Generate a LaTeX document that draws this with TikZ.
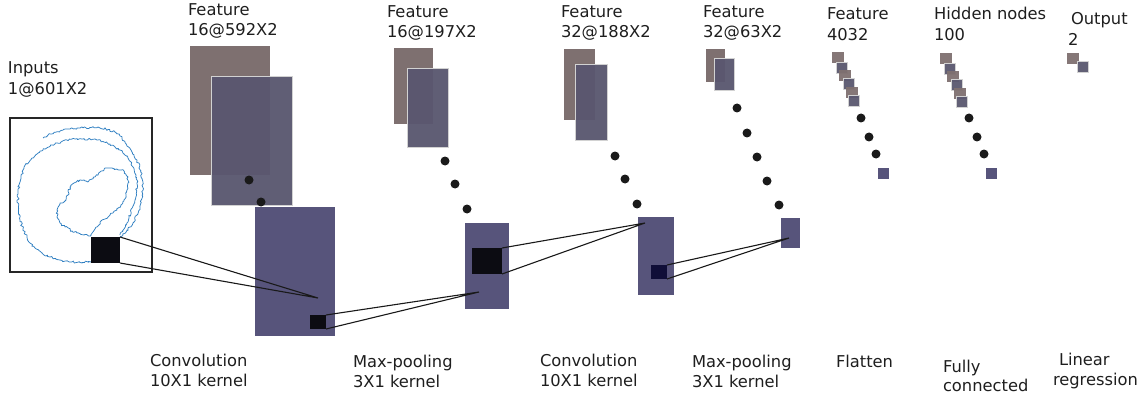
\documentclass[tikz,border=0pt]{standalone}
\usepackage{fontspec}
\setmainfont{DejaVu Sans}
\usetikzlibrary{decorations.pathmorphing}
\definecolor{fbrown}{HTML}{7E7070}
\definecolor{fslate}{HTML}{5A576F}
\definecolor{fblue}{HTML}{57547B}
\definecolor{kblack}{HTML}{0C0C12}
\definecolor{knavy}{HTML}{100E38}
\definecolor{curveblue}{HTML}{2F7FC1}
\definecolor{txt}{HTML}{1E1E1E}
\definecolor{dotc}{HTML}{1A1A1A}
\begin{document}
\begin{tikzpicture}[x=1pt,y=-1pt,
  lbl/.style={anchor=base west, inner sep=0pt, outer sep=0pt, font=\fontsize{16.3}{20}\selectfont, text=txt},
  map/.style={anchor=north west, inner sep=0pt, outer sep=0pt, draw=none},
  back/.style={map, fill=fbrown},
  front/.style={map, fill=fslate, fill opacity=0.96, draw=white!65!gray, line width=0.5pt},
  last/.style={map, fill=fblue},
  kern/.style={map, fill=kblack},
  kernn/.style={map, fill=knavy},
  sqb/.style={map, fill=fbrown, fill opacity=0.95, minimum width=11.5pt, minimum height=11.5pt},
  sqs/.style={map, fill=fslate, fill opacity=0.95, draw=white!65!gray, line width=0.5pt, minimum width=11.5pt, minimum height=11.5pt},
  sql/.style={map, fill=fblue, minimum width=11pt, minimum height=11pt},
  dot/.style={circle, fill=dotc, inner sep=0pt, minimum size=9pt},
  conn/.style={draw=black!90, line width=1.1pt},
  spiral/.style={draw=curveblue, line width=0.75pt, line join=round, decorate, decoration={random steps, segment length=1.6pt, amplitude=1.1pt}}
]
\useasboundingbox (0,0) rectangle (1148,401);
\pgfmathsetseed{7}

% ---------- Input ----------
\node[lbl] (tin1) at (8,74) {Inputs};
\node[lbl] (tin2) at (8,95) {1@601X2};
\node[map, draw=black!85, line width=2pt, minimum width=142pt, minimum height=154pt] (inbox) at (10,118) {};
\draw[spiral] (43,138) -- (51,134) -- (60,131) -- (70,129) -- (80,128) -- (90,127.5) -- (100,128) -- (108,129.5) -- (115,132) -- (120,136) -- (125,142) -- (131,150) -- (137,160) -- (141,171) -- (143,183) -- (142,195) -- (140,207) -- (137,215) -- (133,223) -- (127,230) -- (120,237);
\draw[spiral] (91,262) -- (80,262.5) -- (70,262) -- (60,260) -- (50,257) -- (42,253) -- (35,248) -- (30,243) -- (27,237) -- (23,229) -- (20,220) -- (18.5,211) -- (18,203) -- (18,194) -- (19,185) -- (21,177) -- (23,170) -- (27,164) -- (32,158) -- (37,154) -- (43,150) -- (49,147) -- (55,144) -- (61,142) -- (67,140) -- (75,139) -- (82,139) -- (90,139) -- (97,140) -- (104,142) -- (110,144) -- (115,147) -- (120,150) -- (124,154) -- (128,158) -- (131,162) -- (133,167) -- (136,175) -- (137,183) -- (136.5,192) -- (135,200) -- (133,206) -- (131,212) -- (129,218) -- (127,223) -- (124,229) -- (120,235);
\draw[spiral] (91,236) -- (95,229) -- (100,223) -- (105,219) -- (110,215) -- (117,210) -- (121,205) -- (124,200) -- (126,195) -- (127,190) -- (128,183) -- (128,177) -- (124,171) -- (117,169) -- (112,168) -- (107,168) -- (100,172) -- (95,177) -- (88,182) -- (84,180) -- (80,180) -- (74,183) -- (70,187) -- (68,195) -- (66,200) -- (60,204) -- (57,210) -- (57,217) -- (60,223) -- (65,227) -- (72,231) -- (77,233) -- (84,235) -- (91,236);
\node[kern, minimum width=29pt, minimum height=26pt] (insq) at (91,237) {};

% ---------- Conv 1 ----------
\node[lbl] (tc1a) at (188,16) {Feature};
\node[lbl] (tc1b) at (188,36) {16@592X2};
\node[back, minimum width=80pt, minimum height=129pt] (c1b) at (190,46) {};
\node[front, minimum width=81pt, minimum height=129pt] (c1f) at (211,76) {};
\node[dot] (c1d1) at (249,180) {};
\node[dot] (c1d2) at (261,202) {};
\node[last, minimum width=80pt, minimum height=129pt] (c1l) at (255,207) {};
\node[kern, minimum width=16pt, minimum height=14pt] (c1sq) at (310,315) {};
\coordinate (p1) at (318,298);
\draw[conn] (insq.north east) -- (p1) -- (insq.south east);

% ---------- Pool 1 ----------
\node[lbl] (tp1a) at (387,18) {Feature};
\node[lbl] (tp1b) at (387,38) {16@197X2};
\node[back, minimum width=39pt, minimum height=76pt] (p1b) at (394,48) {};
\node[front, minimum width=41pt, minimum height=79pt] (p1f) at (407,68) {};
\node[dot] (p1d1) at (445,161) {};
\node[dot] (p1d2) at (455,184) {};
\node[dot] (p1d3) at (467,209) {};
\node[last, minimum width=44pt, minimum height=86pt] (p1l) at (465,223) {};
\node[kern, minimum width=30pt, minimum height=26pt] (p1sq) at (472,248) {};
\coordinate (p2) at (479,292);
\draw[conn] (c1sq.north east) -- (p2) -- (c1sq.south east);

% ---------- Conv 2 ----------
\node[lbl] (tc2a) at (561,18) {Feature};
\node[lbl] (tc2b) at (561,38) {32@188X2};
\node[back, minimum width=31pt, minimum height=71pt] (c2b) at (564,49) {};
\node[front, minimum width=32pt, minimum height=76pt] (c2f) at (575,64) {};
\node[dot] (c2d1) at (615,156) {};
\node[dot] (c2d2) at (625,179) {};
\node[dot] (c2d3) at (637,204) {};
\node[last, minimum width=36pt, minimum height=78pt] (c2l) at (638,217) {};
\node[kernn, minimum width=16pt, minimum height=14pt] (c2sq) at (651,265) {};
\coordinate (p3) at (645,223);
\draw[conn] (p1sq.north east) -- (p3) -- (p1sq.south east);

% ---------- Pool 2 ----------
\node[lbl] (tp2a) at (703,18) {Feature};
\node[lbl] (tp2b) at (703,38) {32@63X2};
\node[back, minimum width=19pt, minimum height=33pt] (p2b) at (706,49) {};
\node[front, minimum width=20pt, minimum height=32pt] (p2f) at (714,58) {};
\node[dot] (p2d1) at (737,108) {};
\node[dot] (p2d2) at (747,133) {};
\node[dot] (p2d3) at (757,157) {};
\node[dot] (p2d4) at (767,181) {};
\node[dot] (p2d5) at (779,205) {};
\node[last, minimum width=19pt, minimum height=30pt] (p2l) at (781,218) {};
\coordinate (p4) at (789,238);
\draw[conn] (c2sq.north east) -- (p4) -- (c2sq.south east);

% ---------- Flatten ----------
\node[lbl] (tfa) at (827,20) {Feature};
\node[lbl] (tfb) at (827,41) {4032};
\node[sqb] (f1) at (832,52) {};
\node[sqs] (f2) at (836,62) {};
\node[sqb] (f3) at (839,70) {};
\node[sqs] (f4) at (843,78) {};
\node[sqb] (f5) at (846,87) {};
\node[sqs] (f6) at (848,95) {};
\node[dot] (fd1) at (861,118) {};
\node[dot] (fd2) at (869,137) {};
\node[dot] (fd3) at (876,154) {};
\node[sql] (fl) at (878,168) {};

% ---------- Hidden ----------
\node[lbl] (tha) at (934,20) {Hidden nodes};
\node[lbl] (thb) at (934,41) {100};
\node[sqb] (h1) at (940,53) {};
\node[sqs] (h2) at (944,63) {};
\node[sqb] (h3) at (947,71) {};
\node[sqs] (h4) at (951,79) {};
\node[sqb] (h5) at (954,88) {};
\node[sqs] (h6) at (956,96) {};
\node[dot] (hd1) at (969,118) {};
\node[dot] (hd2) at (977,137) {};
\node[dot] (hd3) at (984,154) {};
\node[sql] (hl) at (986,168) {};

% ---------- Output ----------
\node[lbl] (toa) at (1071,25) {Output};
\node[lbl] (tob) at (1068,46) {2};
\node[sqb] (o1) at (1067,53) {};
\node[sqs] (o2) at (1077,61) {};

% ---------- Bottom labels ----------
\node[lbl] (b1a) at (150,366) {Convolution};
\node[lbl] (b1b) at (150,386) {10X1 kernel};
\node[lbl] (b2a) at (353,367) {Max-pooling};
\node[lbl] (b2b) at (353,387) {3X1 kernel};
\node[lbl] (b3a) at (540,366) {Convolution};
\node[lbl] (b3b) at (540,386) {10X1 kernel};
\node[lbl] (b4a) at (692,367) {Max-pooling};
\node[lbl] (b4b) at (692,387) {3X1 kernel};
\node[lbl] (b5a) at (836,367) {Flatten};
\node[lbl] (b6a) at (943,372) {Fully};
\node[lbl] (b6b) at (943,391) {connected};
\node[lbl] (b7a) at (1059,365) {Linear};
\node[lbl] (b7b) at (1053,385) {regression};
\end{tikzpicture}
\end{document}
